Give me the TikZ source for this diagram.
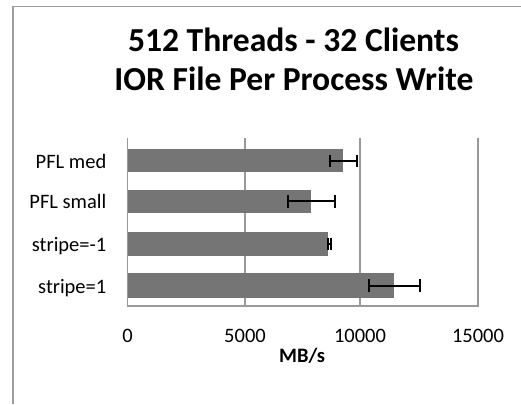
\documentclass[tikz,border=0pt]{standalone}
\usepackage{fontspec}
\setmainfont{Carlito}
\begin{document}
\begin{tikzpicture}[x=1pt,y=-1pt,
  frameline/.style={draw=black!38,line width=1.3pt},
  gridline/.style={draw=black!40,line width=1.4pt},
  barfill/.style={fill=black!54,draw=none},
  errbar/.style={draw=black,line width=2pt},
  catlabel/.style={anchor=base east,inner sep=0pt,font=\fontsize{20.5}{24}\selectfont},
  ticklabel/.style={anchor=base,inner sep=0pt,font=\fontsize{20.5}{24}\selectfont},
  titletext/.style={anchor=base,inner sep=0pt,font=\bfseries\fontsize{33.6}{39}\selectfont}]
\useasboundingbox (0,0) rectangle (521,404);
\fill[white] (0,0) rectangle (521,404);
% outer frame
\draw[frameline] (13,404) -- (13,6.5) -- (521,6.5);
% title
\node[titletext] (t1) at (293.5,51.7) {512 Threads - 32 Clients};
\node[titletext] (t2) at (294,90.7) {IOR File Per Process Write};
% gridlines
\foreach \gx in {127.5,245,360,478} \draw[gridline] (\gx,138) -- (\gx,306.5);
\draw[gridline] (127.5,306) -- (478,306);
% bars
\fill[barfill] (128.2,149.3) rectangle (343,172.3);
\fill[barfill] (128.2,190) rectangle (311,212.7);
\fill[barfill] (128.2,232.3) rectangle (328,255.7);
\fill[barfill] (128.2,273.3) rectangle (394,297.7);
% error bars
\draw[errbar] (330,160.8) -- (357,160.8) (330,154.5) -- (330,167) (357,154.5) -- (357,167);
\draw[errbar] (287.5,201.3) -- (335,201.3) (287.5,195) -- (287.5,207.5) (335,195) -- (335,207.5);
\draw[errbar] (327.8,244) -- (331.2,244) (327.8,237.8) -- (327.8,250.2) (331.2,237.8) -- (331.2,250.2);
\draw[errbar] (368.5,285.5) -- (420,285.5) (368.5,279.2) -- (368.5,291.8) (420,279.2) -- (420,291.8);
% category labels
\node[catlabel] (c1) at (106.5,168.3) {PFL med};
\node[catlabel] (c2) at (106.5,208.8) {PFL small};
\node[catlabel] (c3) at (106.5,251.5) {stripe=-1};
\node[catlabel] (c4) at (106.5,293) {stripe=1};
% tick labels
\node[ticklabel] (x0) at (127.5,342.3) {0};
\node[ticklabel] (x1) at (245,342.3) {5000};
\node[ticklabel] (x2) at (360,342.3) {10000};
\node[ticklabel] (x3) at (478,342.3) {15000};
\node[ticklabel,font=\bfseries\fontsize{20.5}{24}\selectfont] (xl) at (302,362) {MB/s};
\end{tikzpicture}
\end{document}
